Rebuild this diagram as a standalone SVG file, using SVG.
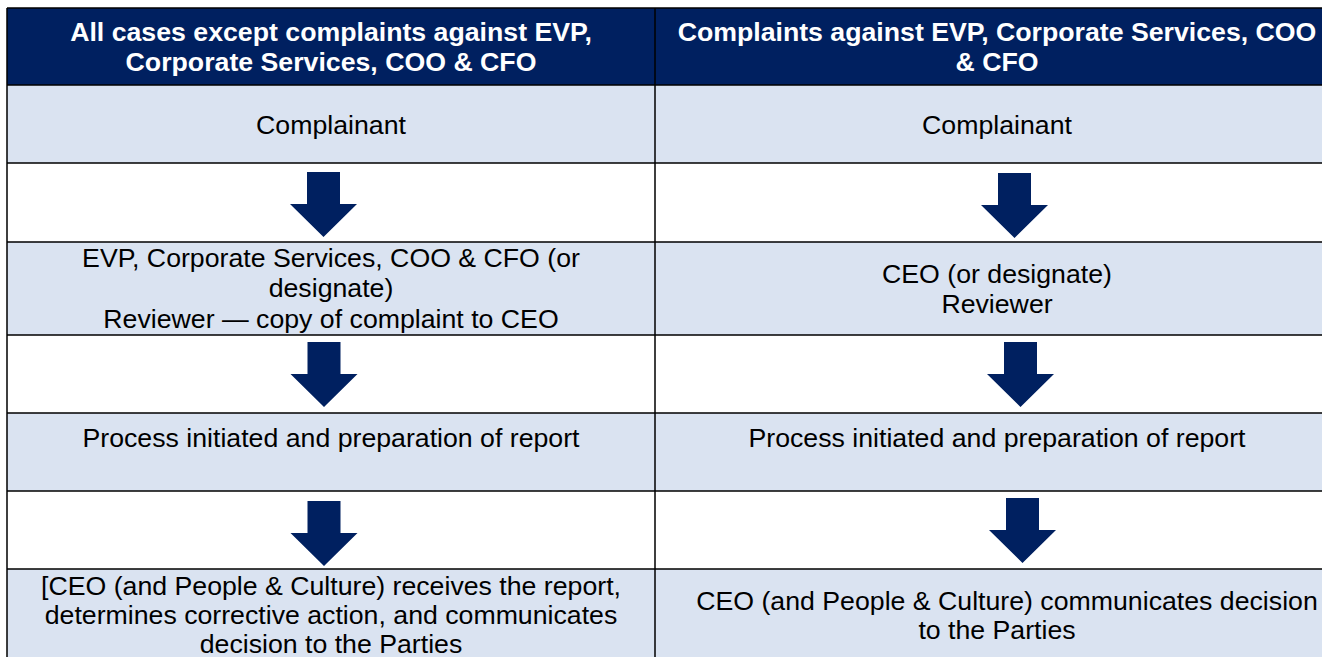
<svg xmlns="http://www.w3.org/2000/svg" xmlns:xlink="http://www.w3.org/1999/xlink" width="1322" height="657" viewBox="0 0 1322 657">
<style>
.hd{fill:#002060}
.lt{fill:#DAE3F1}
.wt{fill:#ffffff}
.t{font-family:"Liberation Sans",Arial,sans-serif;font-size:26.7px;fill:#000;text-anchor:middle}
.h{font-family:"Liberation Sans",Arial,sans-serif;font-size:26.7px;font-weight:bold;fill:#fff;text-anchor:middle}
.grid{stroke:#000;stroke-width:1.5;fill:none}
.arr{fill:#002060}
</style>
<defs>
<path id="arrow" d="M -16.5,-65 H 16.5 V -33 H 33.5 L 0,0 L -33.5,-33 H -16.5 Z"/>
</defs>
<rect x="0" y="0" width="1322" height="657" fill="#ffffff"/>

<g id="header-left">
<rect class="hd" x="7" y="8" width="648" height="77"/>
<text class="h" x="331" y="41">All cases except complaints against EVP,</text>
<text class="h" x="331" y="71">Corporate Services, COO &amp; CFO</text>
</g>
<g id="header-right">
<rect class="hd" x="655" y="8" width="690" height="77"/>
<text class="h" x="997" y="41">Complaints against EVP, Corporate Services, COO</text>
<text class="h" x="997" y="71">&amp; CFO</text>
</g>

<g id="left-complainant">
<rect class="lt" x="7" y="85" width="648" height="78"/>
<text class="t" x="331" y="134">Complainant</text>
</g>
<g id="right-complainant">
<rect class="lt" x="655" y="85" width="690" height="78"/>
<text class="t" x="997" y="134">Complainant</text>
</g>

<g id="left-reviewer">
<rect class="lt" x="7" y="242" width="648" height="93"/>
<text class="t" x="331" y="267">EVP, Corporate Services, COO &amp; CFO (or</text>
<text class="t" x="331" y="297">designate)</text>
<text class="t" x="331" y="328">Reviewer — copy of complaint to CEO</text>
</g>
<g id="right-reviewer">
<rect class="lt" x="655" y="242" width="690" height="93"/>
<text class="t" x="997" y="283">CEO (or designate)</text>
<text class="t" x="997" y="313">Reviewer</text>
</g>

<g id="left-process">
<rect class="lt" x="7" y="413" width="648" height="78"/>
<text class="t" x="331" y="447">Process initiated and preparation of report</text>
</g>
<g id="right-process">
<rect class="lt" x="655" y="413" width="690" height="78"/>
<text class="t" x="997" y="447">Process initiated and preparation of report</text>
</g>

<g id="left-decision">
<rect class="lt" x="7" y="569" width="648" height="100"/>
<text class="t" x="331" y="595">[CEO (and People &amp; Culture) receives the report,</text>
<text class="t" x="331" y="624">determines corrective action, and communicates</text>
<text class="t" x="331" y="653">decision to the Parties</text>
</g>
<g id="right-decision">
<rect class="lt" x="655" y="569" width="690" height="100"/>
<text class="t" x="1007" y="610">CEO (and People &amp; Culture) communicates decision</text>
<text class="t" x="997" y="639">to the Parties</text>
</g>

<g id="grid">
<path class="grid" d="M7,8 H1340 M7,85 H1340 M7,163 H1340 M7,242 H1340 M7,335 H1340 M7,413 H1340 M7,491 H1340 M7,569 H1340 M7,8 V670 M655,8 V670"/>
</g>

<g id="connectors">
<use class="arr" xlink:href="#arrow" href="#arrow" transform="translate(323.5,237)"/>
<use class="arr" xlink:href="#arrow" href="#arrow" transform="translate(324,407)"/>
<use class="arr" xlink:href="#arrow" href="#arrow" transform="translate(324,566)"/>
<use class="arr" xlink:href="#arrow" href="#arrow" transform="translate(1014.5,238)"/>
<use class="arr" xlink:href="#arrow" href="#arrow" transform="translate(1020.5,407)"/>
<use class="arr" xlink:href="#arrow" href="#arrow" transform="translate(1022.5,563)"/>
</g>
</svg>
